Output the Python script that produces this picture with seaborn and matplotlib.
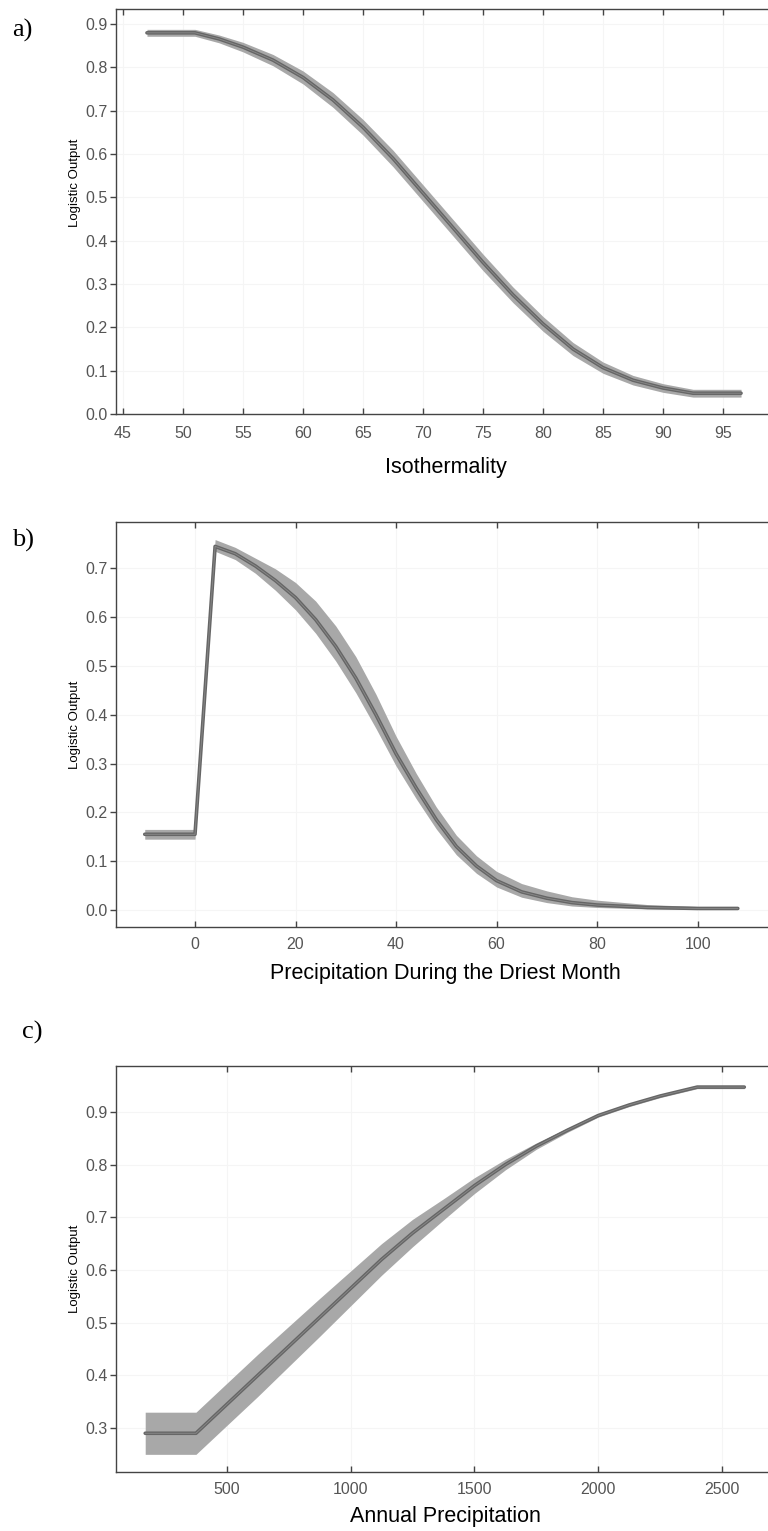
import matplotlib
matplotlib.use("Agg")
import matplotlib.pyplot as plt
import seaborn as sns
import numpy as np
import pandas as pd

# ---- data ----
iso_x = [47, 51, 53, 55, 57.5, 60, 62.5, 65, 67.5, 70, 72.5, 75, 77.5, 80, 82.5, 85, 87.5, 90, 92.5, 96.5]
iso_y = [0.88, 0.88, 0.866, 0.847, 0.817, 0.777, 0.725, 0.662, 0.59, 0.51, 0.43, 0.35, 0.275, 0.208, 0.15, 0.107, 0.078, 0.06, 0.048, 0.048]
iso_hw = [0.008, 0.008, 0.009, 0.011, 0.013, 0.015, 0.017, 0.018, 0.019, 0.019, 0.019, 0.019, 0.018, 0.017, 0.015, 0.013, 0.011, 0.01, 0.009, 0.009]

dry_x = [-10, 0, 4, 8, 12, 16, 20, 24, 28, 32, 36, 40, 44, 48, 52, 56, 60, 65, 70, 75, 80, 90, 100, 108]
dry_y = [0.155, 0.155, 0.745, 0.73, 0.705, 0.675, 0.64, 0.595, 0.54, 0.475, 0.40, 0.32, 0.25, 0.185, 0.13, 0.09, 0.06, 0.037, 0.024, 0.015, 0.01, 0.005, 0.003, 0.003]
dry_lo = [0.01, 0.01, 0.01, 0.012, 0.015, 0.02, 0.025, 0.028, 0.03, 0.03, 0.028, 0.025, 0.022, 0.019, 0.017, 0.015, 0.013, 0.011, 0.009, 0.007, 0.005, 0.003, 0.002, 0.002]
dry_hi = [0.01, 0.01, 0.014, 0.013, 0.016, 0.024, 0.031, 0.038, 0.042, 0.044, 0.042, 0.036, 0.03, 0.026, 0.023, 0.021, 0.019, 0.017, 0.015, 0.012, 0.01, 0.006, 0.004, 0.004]

ann_x = [170, 375, 500, 625, 750, 875, 1000, 1125, 1250, 1375, 1500, 1625, 1750, 1875, 2000, 2125, 2250, 2400, 2590]
ann_y = [0.29, 0.29, 0.345, 0.40, 0.455, 0.51, 0.565, 0.62, 0.67, 0.715, 0.76, 0.80, 0.835, 0.865, 0.893, 0.913, 0.93, 0.947, 0.947]
ann_hw = [0.04, 0.04, 0.04, 0.04, 0.038, 0.036, 0.033, 0.03, 0.026, 0.02, 0.015, 0.01, 0.006, 0.004, 0.003, 0.003, 0.003, 0.003, 0.003]

iso_ticks = [45, 50, 55, 60, 65, 70, 75, 80, 85, 90, 95]
dry_ticks = [0, 20, 40, 60, 80, 100]
ann_ticks = [500, 1000, 1500, 2000, 2500]

sns.set_theme(style="white")
plt.rcParams['font.family'] = ['Liberation Sans', 'DejaVu Sans']

W, H = 768, 1531
fig = plt.figure(figsize=(W / 100, H / 100), dpi=100)

def axes_px(left, top, right, bottom):
    return fig.add_axes([left / W, 1 - bottom / H, (right - left) / W, (bottom - top) / H])

BAND = '#a8a8a8'
LINE = '#666666'

def panel(ax, x, y, lo, hi, xticks, yticks, xlim, ylim, xlabel, ylab_y=0.5, xpad=7, lpad=8):
    ax.fill_between(x, lo, hi, color=BAND, linewidth=0, zorder=2)
    df = pd.DataFrame({'x': x, 'y': y})
    sns.lineplot(data=df, x='x', y='y', ax=ax, color=LINE, linewidth=2.6, zorder=3, sort=False)
    sns.lineplot(data=df, x='x', y='y', ax=ax, color='#8a8a8a', linewidth=0.6, zorder=4, sort=False)
    ax.set_xlim(*xlim)
    ax.set_ylim(*ylim)
    ax.set_xticks(xticks)
    ax.set_yticks(yticks)
    ax.set_yticklabels([f"{v:.1f}" for v in yticks])
    ax.grid(True, color='#f5f5f5', linewidth=0.8)
    ax.set_axisbelow(True)
    for s in ax.spines.values():
        s.set_color('#444444')
        s.set_linewidth(1.0)
    ax.tick_params(axis='x', which='both', direction='in', top=True, bottom=True,
                   length=4, width=1, color='#444444', labelcolor='#555555',
                   labelsize=11.5, pad=xpad)
    ax.tick_params(axis='y', which='both', direction='out', left=True, right=False,
                   length=4, width=1, color='#444444', labelcolor='#555555',
                   labelsize=11.5, pad=2)
    ax.set_xlabel(xlabel, fontsize=15.5, color='black', labelpad=lpad)
    ax.set_ylabel('Logistic Output', fontsize=9.5, color='black')
    ax.yaxis.set_label_coords(-35 / 659, ylab_y)

iso_lo = [a - b for a, b in zip(iso_y, iso_hw)]
iso_hi = [a + b for a, b in zip(iso_y, iso_hw)]
ax1 = axes_px(116, 9, 775, 414)
panel(ax1, iso_x, iso_y, iso_lo, iso_hi, iso_ticks, [0.0, 0.1, 0.2, 0.3, 0.4, 0.5, 0.6, 0.7, 0.8, 0.9],
      (44.42, 99.33), (0.0, 0.935), 'Isothermality', ylab_y=0.57, xpad=9, lpad=11)

d_lo = [a - b for a, b in zip(dry_y, dry_lo)]
d_hi = [a + b for a, b in zip(dry_y, dry_hi)]
ax2 = axes_px(116, 522, 775, 927)
panel(ax2, dry_x, dry_y, d_lo, d_hi, dry_ticks, [0.0, 0.1, 0.2, 0.3, 0.4, 0.5, 0.6, 0.7],
      (-15.72, 115.4), (-0.035, 0.795), 'Precipitation During the Driest Month')

a_lo = [a - b for a, b in zip(ann_y, ann_hw)]
a_hi = [a + b for a, b in zip(ann_y, ann_hw)]
ax3 = axes_px(116, 1066, 775, 1472)
panel(ax3, ann_x, ann_y, a_lo, a_hi, ann_ticks, [0.3, 0.4, 0.5, 0.6, 0.7, 0.8, 0.9],
      (52, 2714), (0.2165, 0.987), 'Annual Precipitation', lpad=7)

for lab, px, py in [('a)', 12, 30), ('b)', 12, 540), ('c)', 22, 1032)]:
    fig.text(px / W, 1 - py / H, lab, fontsize=19, family=['Liberation Serif', 'DejaVu Serif'],
             va='center', ha='left', color='black')

fig.savefig('out.png', dpi=100)
